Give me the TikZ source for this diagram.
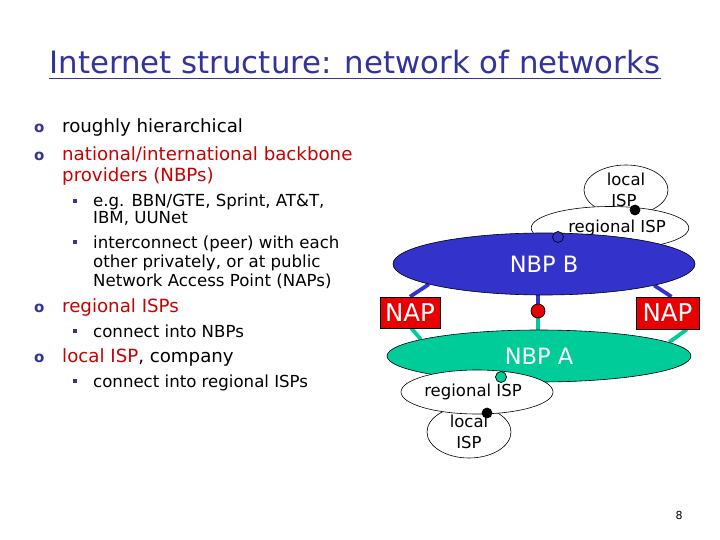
\documentclass[tikz,border=0pt]{standalone}
\usepackage{fontspec}
\setmainfont{DejaVu Sans}
\usetikzlibrary{shapes.geometric,backgrounds}
\definecolor{tblue}{RGB}{51,51,153}
\definecolor{tred}{RGB}{204,0,0}
\definecolor{nbpblue}{RGB}{51,51,204}
\definecolor{nbpteal}{RGB}{0,204,153}
\definecolor{napred}{RGB}{232,0,0}
\begin{document}
\begin{tikzpicture}[x=1pt,y=-1pt,
  txt/.style={anchor=base west, inner sep=0pt, font=\fontsize{18.2}{21}\selectfont},
  subtxt/.style={anchor=base west, inner sep=0pt, font=\fontsize{16.6}{19}\selectfont},
  obul/.style={anchor=base west, inner sep=0pt, text=tblue, font=\fontsize{15}{17}\selectfont\bfseries},
  sqbul/.style={rectangle, fill=tblue, inner sep=0pt, minimum size=3.8pt},
  wellipse/.style={ellipse, draw=black, fill=white, line width=0.6pt, inner sep=0pt, align=center, font=\fontsize{16.5}{21}\selectfont},
  bigellipse/.style={ellipse, draw=black, line width=0.6pt, inner sep=0pt, text=white, font=\fontsize{22.5}{25}\selectfont},
  napbox/.style={rectangle, draw=black, fill=napred, line width=0.6pt, inner sep=0pt, text=white, font=\fontsize{24.5}{26}\selectfont},
  dotnode/.style={circle, draw=black, line width=0.7pt, inner sep=0pt},
  bline/.style={draw=nbpblue, line width=3.8pt},
  tline/.style={draw=nbpteal, line width=3.8pt}
]
\begin{scope}[on background layer]
\fill[white] (0,0) rectangle (720,540);
\end{scope}
\useasboundingbox (0,0) rectangle (720,540);

% title
\node[anchor=base, inner sep=0pt, text=tblue, font=\fontsize{30.8}{34}\selectfont] (title) at (355,74) {Internet structure: network of networks};
\draw[tblue, line width=1.8pt] ([yshift=-4.5pt]title.base west) -- ([yshift=-4.5pt]title.base east);

% bullets
\node[obul] (b1) at (34,133) {o};
\node[txt] (t1) at (62,133) {roughly hierarchical};
\node[obul] (b2) at (34,161) {o};
\node[txt, text=tred] (t2) at (62,161) {national/international backbone};
\node[txt, text=tred] (t3) at (62,182) {providers (NBPs)};
\node[sqbul] (s1) at (75,201) {};
\node[subtxt] (t4) at (93,207) {e.g. BBN/GTE, Sprint, AT\&T,};
\node[subtxt] (t5) at (93,224) {IBM, UUNet};
\node[sqbul] (s2) at (75,242) {};
\node[subtxt] (t6) at (93,248) {interconnect (peer) with each};
\node[subtxt] (t7) at (93,267) {other privately, or at public};
\node[subtxt] (t8) at (93,286) {Network Access Point (NAPs)};
\node[obul] (b3) at (34,312) {o};
\node[txt, text=tred] (t9) at (62,312) {regional ISPs};
\node[sqbul] (s3) at (75,331) {};
\node[subtxt] (t10) at (93,337) {connect into NBPs};
\node[obul] (b4) at (34,362) {o};
\node[txt] (t11) at (62,362) {\textcolor{tred}{local ISP}, company};
\node[sqbul] (s4) at (75,381) {};
\node[subtxt] (t12) at (93,387) {connect into regional ISPs};

% page number
\node[anchor=base, inner sep=0pt, font=\fontsize{11}{13}\selectfont] (pg) at (679,519) {8};

% upper ISPs
\node[wellipse, minimum width=84pt, minimum height=50pt] (lispb) at (626,190) {local\\ISP\hspace*{4pt}};
\node[wellipse, minimum width=154pt, minimum height=43pt] (rispb) at (610,228) {\hspace*{14pt}regional ISP};

% NBP B
\node[bigellipse, fill=nbpblue, minimum width=302pt, minimum height=62pt] (nbpb) at (544,264) {NBP B};

% NAPs and red dot
\node[napbox, minimum width=60pt, minimum height=31pt] (napl) at (410,312.5) {NAP};
\node[napbox, minimum width=63pt, minimum height=32pt] (napr) at (667.5,313) {NAP};
\node[dotnode, fill=napred, minimum size=14pt] (rdot) at (538,311) {};

% NBP A
\node[bigellipse, fill=nbpteal, minimum width=304pt, minimum height=52pt] (nbpa) at (539,356) {NBP A};

% lower ISPs
\node[wellipse, minimum width=84pt, minimum height=52pt] (lispa) at (469,432) {local\\ISP};
\node[wellipse, minimum width=152pt, minimum height=44pt] (rispa) at (477,392) {regional ISP\hspace*{8pt}};

% dots
\node[dotnode, fill=nbpblue, minimum size=11pt] (bdot) at (558,237) {};
\node[dotnode, fill=black, minimum size=10pt] (kdot1) at (635,210) {};
\node[dotnode, fill=nbpteal, minimum size=11pt] (tdot) at (501,377) {};
\node[dotnode, fill=black, minimum size=10pt] (kdot2) at (487,413) {};

% connectors (behind)
\begin{scope}[on background layer]
\path[bline] (nbpb.190) -- (napl.north);
\path[bline] (nbpb.349) -- ([xshift=4pt]napr.north);
\path[bline] (rdot.center) -- (rdot.center |- nbpb.center);
\path[tline] (napl.-85) -- (nbpa.172);
\path[tline] (napr.-40) -- (nbpa.6);
\path[tline] (rdot.center) -- (rdot.center |- nbpa.center);
\end{scope}

\end{tikzpicture}
\end{document}
